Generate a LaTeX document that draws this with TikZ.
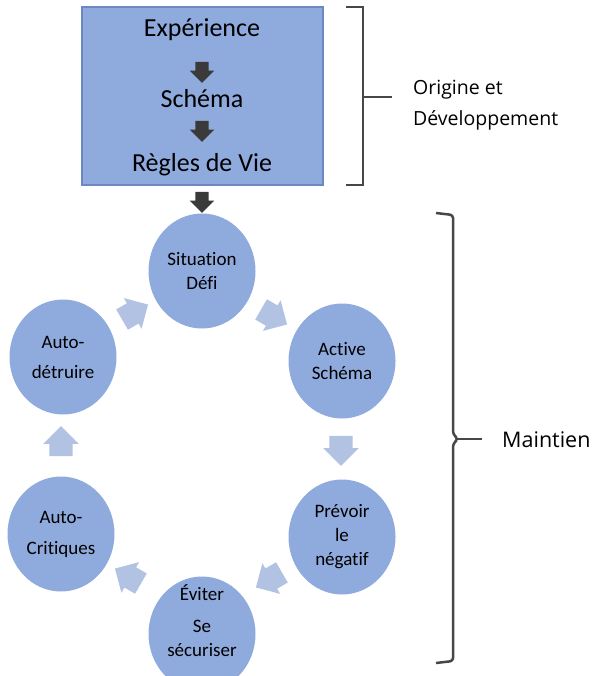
\documentclass[tikz,border=0pt]{standalone}
\usepackage{fontspec}
\setmainfont{Carlito}[Ligatures=NoCommon]
\newfontfamily\sidefont{Open Sans}
\usepackage{tikz}
\usetikzlibrary{positioning, shapes.geometric, shapes.arrows, calc}

\definecolor{bubblefill}{HTML}{8FAADC}
\definecolor{boxline}{HTML}{6B88BF}
\definecolor{flowfill}{HTML}{B1C2E2}
\definecolor{darkflow}{HTML}{3A3A3A}
\definecolor{brkgray}{HTML}{474747}

\begin{document}
\begin{tikzpicture}[
    x=1pt, y=-1pt,
    bubble/.style = {ellipse, fill=bubblefill, minimum width=107pt, minimum height=115pt,
        inner sep=0pt, align=center, font=\fontsize{19}{24}\selectfont},
    flow/.style = {single arrow, fill=flowfill, minimum height=30pt, minimum width=35pt,
        inner xsep=0pt, inner ysep=11.5pt, single arrow head extend=6pt},
    darr/.style = {single arrow, fill=darkflow, minimum height=21pt, minimum width=24pt,
        inner xsep=0pt, inner ysep=6.5pt, single arrow head extend=5.5pt, rotate=-90},
    boxtext/.style = {font=\fontsize{26}{30}\selectfont, inner sep=0pt},
    brk/.style = {draw=brkgray, line width=2.8pt},
    side/.style = {font=\sidefont, anchor=west, align=left, inner sep=0pt}
]
\clip (0,0) rectangle (597,676);

% Origin box
\node[draw=boxline, line width=1.5pt, fill=bubblefill, minimum width=241pt,
      minimum height=178pt, inner sep=0pt] (box) at (202.5,96) {};
\node[boxtext] (exp) at (202,30) {Expérience};
\node[boxtext] (sch) at (202,99) {Schéma};
\node[boxtext] (reg) at (202,165) {Règles de Vie};

\node[darr] (d1) at (202,69) {};
\node[darr] (d2) at (202,128) {};
\node[darr] (d3) at (202,199) {};

% Cycle
\node[bubble] (sit) at (202,271) {Situation\\Défi};
\node[bubble] (act) at (342,361) {Active\\Schéma};
\node[bubble] (pre) at (342,537) {Prévoir\\le\\négatif};
\node[bubble] (evi) at (202,634) {};
\node[align=center, inner sep=0pt, font=\fontsize{19}{24}\selectfont] (evit) at (202,621)
    {Éviter\\[8pt]Se\\sécuriser};
\node[bubble] (cri) at (61,534) {Auto-\\[7pt]Critiques};
\node[bubble] (det) at (63,357) {Auto-\\[6pt]détruire};

\node[flow, rotate=-30] (a1) at (269,314) {};
\node[flow, rotate=-90] (a2) at (341,445) {};
\node[flow, rotate=-150] (a3) at (274,577) {};
\node[flow, rotate=150] (a4) at (133,579) {};
\node[flow, rotate=90] (a5) at (61,447) {};
\node[flow, rotate=30] (a6) at (130,315) {};

% Brackets
\coordinate (t1) at (363,97);
\coordinate (m1) at (458,439);
\node[side, font=\sidefont\fontsize{19.5}{31}\selectfont] (org) at (413,105)
    {Origine et\\Développement};
\node[side, font=\sidefont\fontsize{21.5}{26}\selectfont] (mai) at (502,440) {Maintien};

\draw[brk] (346,7) -- (363,7) -- (363,185) -- (346,185);
\draw[brk] (t1) -- (392,97);
\draw[brk, line width=2.5pt, rounded corners=3pt] (436,213) -- (453,215) -- (453,434)
    -- (m1) -- (453,444) -- (453,661) -- (436,663);
\draw[brk, line width=2.5pt] (m1) -- (482,439);

\end{tikzpicture}
\end{document}
